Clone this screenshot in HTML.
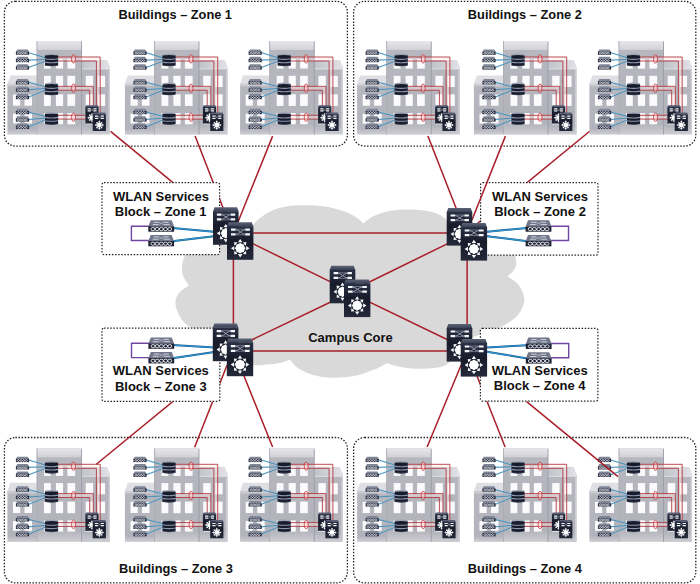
<!DOCTYPE html>
<html><head><meta charset="utf-8"><title>Campus WLAN</title>
<style>html,body{margin:0;padding:0;background:#fff}svg{display:block}text{font-family:"Liberation Sans",sans-serif;font-weight:bold;font-size:13px;fill:#111}</style></head><body>
<svg width="700" height="584" viewBox="0 0 700 584">

<defs>
<linearGradient id="gBody" x1="0" y1="0" x2="0" y2="1">
 <stop offset="0" stop-color="#b7b7bf"/><stop offset="0.88" stop-color="#b3b3bb"/><stop offset="1" stop-color="#cdcdd3"/>
</linearGradient>
<linearGradient id="gRoof" x1="0" y1="0" x2="0" y2="1">
 <stop offset="0" stop-color="#e8e8ec"/><stop offset="1" stop-color="#d0d0d6"/>
</linearGradient>
<linearGradient id="gRoofR" x1="0" y1="0" x2="1" y2="0">
 <stop offset="0" stop-color="#c2c2ca"/><stop offset="0.45" stop-color="#cfcfd6"/><stop offset="1" stop-color="#e2e2e7"/>
</linearGradient>
<linearGradient id="gSw" x1="0" y1="0" x2="0" y2="1">
 <stop offset="0" stop-color="#2b3145"/><stop offset="0.45" stop-color="#171b2a"/><stop offset="1" stop-color="#252a3b"/>
</linearGradient>
<linearGradient id="gSwTop" x1="0" y1="0" x2="0" y2="1">
 <stop offset="0" stop-color="#5d6478"/><stop offset="1" stop-color="#3a4054"/>
</linearGradient>

<!-- AP icon 13.2 x 5.4 -->
<g id="ap">
 <path d="M1.4,0 L11.8,0 L13.2,2.4 L0,2.4 Z" fill="#7f8698"/>
 <rect x="0" y="2.2" width="13.2" height="3.2" fill="#262b3d"/>
 <path d="M1.3,3.8 C2,2.5 3,2.5 3.8,3.8 S5.6,5.1 6.4,3.8 S8.2,2.5 9,3.8 S10.8,5.1 11.6,3.8 M1.3,3.8 C2,5.1 3,5.1 3.8,3.8 S5.6,2.5 6.4,3.8 S8.2,5.1 9,3.8 S10.8,2.5 11.6,3.8" stroke="#eceef4" stroke-width="0.75" fill="none"/>
</g>

<!-- access switch stack 13.2 x 12.8 -->
<g id="asw">
 <path d="M0.4,0.6 Q6.6,-0.6 12.8,0.6 L13.2,2.2 L0,2.2 Z" fill="#9ea5b6"/>
 <path d="M0,1.9 Q6.6,1.1 13.2,1.9 L13.2,11.8 Q6.6,13.2 0,11.8 Z" fill="#171b2a"/>
 <path d="M0,5.2 Q6.6,6.4 13.2,5.2" stroke="#8e97b0" stroke-width="1.1" fill="none"/>
 <path d="M0,8.5 Q6.6,9.7 13.2,8.5" stroke="#8e97b0" stroke-width="1.1" fill="none"/>
 <path d="M0.2,11.7 Q6.6,13 13,11.7" stroke="#4a5168" stroke-width="0.6" fill="none"/>
</g>

<!-- L3 switch big: 26.4 x 37.6 -->
<g id="l3">
 <path d="M1.6,0 L24.8,0 L26.4,4.2 L0,4.2 Z" fill="url(#gSwTop)"/>
 <rect x="0" y="4" width="26.4" height="33.6" fill="url(#gSw)"/>
 <g stroke="#f4f5f8" stroke-width="2.2" fill="none">
  <path d="M4,7.5 L8.7,7.5 M18.2,7.5 L22.9,7.5 M4,12.2 L8.7,12.2 M18.2,12.2 L22.9,12.2"/>
 </g>
 <g stroke="#a9aebc" stroke-width="0.9" fill="none">
  <path d="M8.7,7.5 C12,7.5 14.8,12.2 18.2,12.2 M8.7,12.2 C12,12.2 14.8,7.5 18.2,7.5"/>
  <path d="M8.7,7.1 L18.2,7.1 M8.7,12.6 L18.2,12.6" stroke-width="0.7" stroke="#8f95a6"/>
 </g>
 <path d="M13.20,16.70 L15.50,20.10 L10.90,20.10 Z M14.10,22.00 L14.10,20.10 L12.30,20.10 L12.30,22.00 Z M19.28,19.92 L19.00,23.45 L15.75,20.20 Z M16.66,23.81 L18.01,22.46 L16.74,21.19 L15.39,22.54 Z M22.50,26.00 L19.10,28.30 L19.10,23.70 Z M17.20,26.90 L19.10,26.90 L19.10,25.10 L17.20,25.10 Z M19.28,32.08 L15.75,31.80 L19.00,28.55 Z M15.39,29.46 L16.74,30.81 L18.01,29.54 L16.66,28.19 Z M13.20,35.30 L10.90,31.90 L15.50,31.90 Z M12.30,30.00 L12.30,31.90 L14.10,31.90 L14.10,30.00 Z M7.12,32.08 L7.40,28.55 L10.65,31.80 Z M9.74,28.19 L8.39,29.54 L9.66,30.81 L11.01,29.46 Z M3.90,26.00 L7.30,23.70 L7.30,28.30 Z M9.20,25.10 L7.30,25.10 L7.30,26.90 L9.20,26.90 Z M7.12,19.92 L10.65,20.20 L7.40,23.45 Z M11.01,22.54 L9.66,21.19 L8.39,22.46 L9.74,23.81 Z " fill="#f4f5f8"/>
 <circle cx="13.2" cy="26" r="5.5" fill="none" stroke="#1a1e2d" stroke-width="0.9"/>
 <circle cx="13.2" cy="26" r="4.7" fill="#fff"/>
</g>

<!-- L3 switch small: 13.2 x 18.4 -->
<g id="l3s">
 <path d="M0.8,0 L12.4,0 L13.2,1.8 L0,1.8 Z" fill="#5a6176"/>
 <rect x="0" y="1.6" width="13.2" height="16.8" fill="url(#gSw)"/>
 <g stroke="#f4f5f8" stroke-width="1.2" fill="none">
  <path d="M2.2,3.6 L5.4,3.6 M8,3.6 L11.2,3.6 M2.2,5.7 L5.4,5.7 M8,5.7 L11.2,5.7"/>
 </g>
 <path d="M5.4,3.6 L8,5.7 M5.4,5.7 L8,3.6" stroke="#9aa0b0" stroke-width="0.5"/>
 <path d="M6.60,7.70 L7.85,9.60 L5.35,9.60 Z M7.10,10.50 L7.10,9.60 L6.10,9.60 L6.10,10.50 Z M9.71,9.39 L9.53,11.33 L7.77,9.57 Z M8.37,11.44 L9.00,10.80 L8.30,10.10 L7.66,10.73 Z M11.40,12.50 L9.50,13.75 L9.50,11.25 Z M8.60,13.00 L9.50,13.00 L9.50,12.00 L8.60,12.00 Z M9.71,15.61 L7.77,15.43 L9.53,13.67 Z M7.66,14.27 L8.30,14.90 L9.00,14.20 L8.37,13.56 Z M6.60,17.30 L5.35,15.40 L7.85,15.40 Z M6.10,14.50 L6.10,15.40 L7.10,15.40 L7.10,14.50 Z M3.49,15.61 L3.67,13.67 L5.43,15.43 Z M4.83,13.56 L4.20,14.20 L4.90,14.90 L5.54,14.27 Z M1.80,12.50 L3.70,11.25 L3.70,13.75 Z M4.60,12.00 L3.70,12.00 L3.70,13.00 L4.60,13.00 Z M3.49,9.39 L5.43,9.57 L3.67,11.33 Z M5.54,10.73 L4.90,10.10 L4.20,10.80 L4.83,11.44 Z " fill="#f4f5f8"/>
 <circle cx="6.6" cy="12.5" r="2.4" fill="#fff"/>
</g>

<!-- WLC icon 25.8 x 11.4 -->
<g id="wlc">
 <path d="M2.4,0 L23.4,0 L25.8,6.3 L0,6.3 Z" fill="#71778a"/>
 <path d="M5.4,2 L10.6,2 M15.2,2 L20.4,2 M4.4,4.3 L10.2,4.3 M15.6,4.3 L21.4,4.3" stroke="#d9dce5" stroke-width="0.9"/>
 <path d="M10.6,2 L15.6,4.3 M10.2,4.3 L15.2,2" stroke="#b5b9c6" stroke-width="0.6"/>
 <rect x="0" y="6.1" width="25.8" height="5.3" fill="#1d2132"/>
 <g fill="none" stroke="#eef0f5" stroke-width="0.9">
  <ellipse cx="4.6" cy="8.8" rx="2" ry="1.6"/><ellipse cx="8.8" cy="8.8" rx="2" ry="1.6"/><ellipse cx="13" cy="8.8" rx="2" ry="1.6"/><ellipse cx="17.2" cy="8.8" rx="2" ry="1.6"/><ellipse cx="21.4" cy="8.8" rx="2" ry="1.6"/>
 </g>
</g>

<g id="bld">
<path d="M7.4,83.8 L10.4,75.4 L36.8,75.4 L36.8,83.8 Z" fill="#dedee3"/>
<rect x="7.4" y="83.8" width="29.4" height="50.8" fill="url(#gBody)"/>
<rect x="7.4" y="83.8" width="29.4" height="2.4" fill="#cbcbd1"/>
<path d="M81.4,60 L107,60 L110,67.5 L110,134.6 L81.4,134.6 Z" fill="url(#gBody)"/>
<path d="M81.4,60 L107,60 L110,67.5 L110,69 L81.4,69 Z" fill="url(#gRoofR)"/>
<rect x="81.4" y="68.6" width="28.6" height="0.7" fill="#ececf0"/>
<rect x="108.6" y="69" width="1.4" height="65.6" fill="#cfcfd6"/>
<rect x="36.8" y="41" width="44.8" height="93.6" fill="url(#gBody)"/>
<rect x="36.8" y="41" width="44.8" height="9" fill="url(#gRoof)"/>
<rect x="36.6" y="41" width="0.8" height="93.6" fill="#a6a6ae"/>
<rect x="81.1" y="41.5" width="0.8" height="93.1" fill="#9696a2"/>
<rect x="44" y="59" width="6.8" height="9.6" fill="#fbfbfd"/>
<rect x="55.9" y="59" width="7.2" height="9.6" fill="#fbfbfd"/>
<rect x="67.4" y="59" width="7.7" height="9.6" fill="#fbfbfd"/>
<rect x="44" y="75.8" width="6.8" height="11.2" fill="#fbfbfd"/>
<rect x="55.9" y="75.8" width="7.2" height="11.2" fill="#fbfbfd"/>
<rect x="67.4" y="75.8" width="7.7" height="11.2" fill="#fbfbfd"/>
<rect x="44" y="94.3" width="6.8" height="11.6" fill="#fbfbfd"/>
<rect x="55.9" y="94.3" width="7.2" height="11.6" fill="#fbfbfd"/>
<rect x="67.4" y="94.3" width="7.7" height="11.6" fill="#fbfbfd"/>
<rect x="44" y="113.1" width="6.8" height="11.2" fill="#fbfbfd"/>
<rect x="55.9" y="113.1" width="7.2" height="11.2" fill="#fbfbfd"/>
<rect x="67.4" y="113.1" width="7.7" height="11.2" fill="#fbfbfd"/>
<rect x="85.7" y="75.8" width="7.4" height="11.2" fill="#fbfbfd"/>
<rect x="97.8" y="75.8" width="7.3" height="11.2" fill="#fbfbfd"/>
<rect x="85.7" y="94.3" width="7.4" height="11.6" fill="#fbfbfd"/>
<rect x="97.8" y="94.3" width="7.3" height="11.6" fill="#fbfbfd"/>
<rect x="85.7" y="113.1" width="7.4" height="11.2" fill="#fbfbfd"/>
<rect x="97.8" y="113.1" width="7.3" height="11.2" fill="#fbfbfd"/>
<rect x="13" y="94.6" width="7.2" height="11.1" fill="#fbfbfd"/>
<rect x="24.5" y="94.6" width="7.5" height="11.1" fill="#fbfbfd"/>
<rect x="13" y="113.7" width="7.2" height="9.8" fill="#fbfbfd"/>
<rect x="24.5" y="113.7" width="7.5" height="9.8" fill="#fbfbfd"/>
<path d="M57.5,57 L100.2,57 L100.2,114 L96.8,114 L96.8,61 L57.5,61 Z" fill="#ffe6e6" fill-opacity="0.42"/>
<path d="M57.5,57 L100.2,57 L100.2,114" stroke="#ac3036" stroke-width="0.85" fill="none"/>
<path d="M57.5,61 L96.4,61 L96.4,107" stroke="#ac3036" stroke-width="0.85" fill="none"/>
<path d="M57.5,86.3 L93.3,86.3 L93.3,107 L89.7,107 L89.7,90.2 L57.5,90.2 Z" fill="#ffe6e6" fill-opacity="0.42"/>
<path d="M57.5,86.3 L93.3,86.3 L93.3,107" stroke="#ac3036" stroke-width="0.85" fill="none"/>
<path d="M57.5,90.2 L89.7,90.2 L89.7,107" stroke="#ac3036" stroke-width="0.85" fill="none"/>
<path d="M57.5,115.3 L85.6,115.3 L85.6,119.1 L57.5,119.1 Z" fill="#ffe6e6" fill-opacity="0.42"/>
<path d="M57.5,115.3 L85.6,115.3" stroke="#ac3036" stroke-width="0.85" fill="none"/>
<path d="M57.5,119.1 L85.6,119.1" stroke="#ac3036" stroke-width="0.85" fill="none"/>
<ellipse cx="73.5" cy="58.9" rx="2" ry="4.2" fill="#fbd3d3" fill-opacity="0.4" stroke="#c4343a" stroke-width="0.8"/>
<ellipse cx="73.5" cy="88.2" rx="2" ry="4.2" fill="#fbd3d3" fill-opacity="0.4" stroke="#c4343a" stroke-width="0.8"/>
<ellipse cx="73.5" cy="117.2" rx="2" ry="4.2" fill="#fbd3d3" fill-opacity="0.4" stroke="#c4343a" stroke-width="0.8"/>
<path d="M28.6,52.6 L45.6,57.7" stroke="#8fcdf0" stroke-width="1.5" stroke-opacity="0.5" fill="none"/>
<path d="M28.6,52.7 L45.6,57.8" stroke="#3580aa" stroke-width="0.8" fill="none"/>
<path d="M28.6,60.0 L45.6,59.4" stroke="#8fcdf0" stroke-width="1.5" stroke-opacity="0.5" fill="none"/>
<path d="M28.6,60.1 L45.6,59.5" stroke="#3580aa" stroke-width="0.8" fill="none"/>
<path d="M28.6,67.4 L45.6,61.1" stroke="#8fcdf0" stroke-width="1.5" stroke-opacity="0.5" fill="none"/>
<path d="M28.6,67.5 L45.6,61.2" stroke="#3580aa" stroke-width="0.8" fill="none"/>
<path d="M28.6,82.2 L45.6,86.7" stroke="#8fcdf0" stroke-width="1.5" stroke-opacity="0.5" fill="none"/>
<path d="M28.6,82.3 L45.6,86.8" stroke="#3580aa" stroke-width="0.8" fill="none"/>
<path d="M28.6,89.6 L45.6,88.4" stroke="#8fcdf0" stroke-width="1.5" stroke-opacity="0.5" fill="none"/>
<path d="M28.6,89.7 L45.6,88.5" stroke="#3580aa" stroke-width="0.8" fill="none"/>
<path d="M28.6,97.0 L45.6,90.1" stroke="#8fcdf0" stroke-width="1.5" stroke-opacity="0.5" fill="none"/>
<path d="M28.6,97.1 L45.6,90.2" stroke="#3580aa" stroke-width="0.8" fill="none"/>
<path d="M28.6,112.0 L45.6,116.3" stroke="#8fcdf0" stroke-width="1.5" stroke-opacity="0.5" fill="none"/>
<path d="M28.6,112.1 L45.6,116.4" stroke="#3580aa" stroke-width="0.8" fill="none"/>
<path d="M28.6,119.4 L45.6,118.0" stroke="#8fcdf0" stroke-width="1.5" stroke-opacity="0.5" fill="none"/>
<path d="M28.6,119.5 L45.6,118.1" stroke="#3580aa" stroke-width="0.8" fill="none"/>
<path d="M28.6,126.8 L45.6,119.7" stroke="#8fcdf0" stroke-width="1.5" stroke-opacity="0.5" fill="none"/>
<path d="M28.6,126.9 L45.6,119.8" stroke="#3580aa" stroke-width="0.8" fill="none"/>
<use href="#ap" x="15.9" y="49.4"/>
<use href="#ap" x="15.9" y="56.8"/>
<use href="#ap" x="15.9" y="64.2"/>
<use href="#ap" x="15.9" y="79.0"/>
<use href="#ap" x="15.9" y="86.4"/>
<use href="#ap" x="15.9" y="93.8"/>
<use href="#ap" x="15.9" y="108.8"/>
<use href="#ap" x="15.9" y="116.2"/>
<use href="#ap" x="15.9" y="123.6"/>
<use href="#asw" x="44.9" y="53.6"/>
<use href="#asw" x="44.9" y="82.6"/>
<use href="#asw" x="44.9" y="112.2"/>
<use href="#l3s" x="85.4" y="105.2"/>
<use href="#l3s" x="92.7" y="112.6"/>
</g>
</defs>
<rect width="700" height="584" fill="#fff"/>
<path d="M240,250 C241.0,247.7 243.7,240.3 246.0,236.0 C248.3,231.7 250.0,227.9 253.7,224.0 C257.4,220.1 262.6,215.4 268.0,212.5 C273.4,209.6 279.8,207.7 286.0,206.5 C292.2,205.3 298.5,205.3 305.0,205.3 C311.5,205.3 318.7,205.6 325.0,206.5 C331.3,207.4 338.0,209.3 343.0,211.0 C348.0,212.7 351.6,214.4 355.0,216.5 C358.4,218.6 362.1,222.3 363.5,223.5 C365.2,222.2 369.6,218.1 374.0,216.0 C378.4,213.9 384.3,211.9 390.0,210.8 C395.7,209.7 402.0,209.4 408.0,209.4 C414.0,209.4 420.8,210.0 426.0,210.8 C431.2,211.7 435.4,212.8 439.0,214.5 C442.6,216.2 444.6,217.8 447.4,220.7 C450.2,223.6 453.9,227.9 456.0,232.0 C458.1,236.1 459.3,242.8 460.0,245.0 C463.3,243.8 473.3,238.8 480.0,238.0 C486.7,237.2 494.7,238.2 500.0,240.0 C505.3,241.8 509.3,245.3 512.0,249.0 C514.7,252.7 516.0,258.4 516.3,262.0 C516.5,265.6 515.0,268.1 513.5,270.5 C512.0,272.9 508.4,275.6 507.4,276.6 C508.6,277.3 512.5,279.3 514.5,281.0 C516.5,282.7 518.1,283.7 519.7,286.6 C521.3,289.5 524.0,294.4 524.3,298.2 C524.6,302.0 523.1,306.2 521.3,309.7 C519.5,313.2 517.0,316.2 513.6,319.0 C510.2,321.8 506.0,324.4 501.2,326.7 C496.4,329.0 491.0,330.8 485.0,333.0 C479.0,335.2 468.3,338.8 465.0,340.0 C463.8,342.0 461.0,347.9 458.0,352.0 C455.0,356.1 450.8,361.7 447.1,364.3 C443.4,366.9 440.9,366.9 435.7,367.7 C430.5,368.4 421.9,369.0 415.7,368.8 C409.5,368.6 403.4,367.5 398.6,366.5 C393.8,365.5 389.0,363.5 387.1,362.9 C386.1,363.5 383.4,365.3 381.0,366.5 C378.6,367.7 377.1,368.5 372.9,370.0 C368.7,371.5 362.4,374.4 355.7,375.7 C349.0,377.0 340.0,377.8 332.9,377.7 C325.8,377.6 318.6,376.4 312.9,374.9 C307.2,373.4 302.4,371.2 298.6,368.6 C294.8,366.0 291.4,360.9 290.0,359.4 C288.3,360.0 283.8,362.1 280.0,363.0 C276.2,363.9 271.5,364.3 267.0,364.6 C262.5,364.9 257.5,365.8 253.0,365.0 C248.5,364.2 242.2,360.8 240.0,360.0 C235.8,356.7 223.3,345.4 215.0,340.0 C206.7,334.6 196.2,331.2 190.4,327.4 C184.6,323.6 182.9,321.2 180.4,317.4 C177.9,313.5 175.8,308.3 175.5,304.3 C175.2,300.3 176.3,296.6 178.5,293.5 C180.7,290.4 187.2,286.8 188.9,285.4 C188.0,284.0 184.8,279.9 183.6,277.0 C182.4,274.1 181.8,271.6 182.0,268.0 C182.2,264.4 182.8,259.2 185.0,255.5 C187.2,251.8 190.0,248.1 195.0,246.0 C200.0,243.9 207.5,242.3 215.0,243.0 C222.5,243.7 235.8,248.8 240.0,250.0 Z" fill="#d9d9da"/>
<rect x="4.4" y="1.3" width="343" height="144.8" rx="11" ry="11" fill="none" stroke="#222" stroke-width="1.3" stroke-dasharray="1.5 1.6"/>
<rect x="353.6" y="1.3" width="342.2" height="144.8" rx="11" ry="11" fill="none" stroke="#222" stroke-width="1.3" stroke-dasharray="1.5 1.6"/>
<rect x="4.4" y="437.5" width="343" height="145.4" rx="11" ry="11" fill="none" stroke="#222" stroke-width="1.3" stroke-dasharray="1.5 1.6"/>
<rect x="353.6" y="437.5" width="342.2" height="145.4" rx="11" ry="11" fill="none" stroke="#222" stroke-width="1.3" stroke-dasharray="1.5 1.6"/>
<line x1="110.6" y1="131.3" x2="222" y2="222.9" stroke="#a81e28" stroke-width="1.5"/>
<line x1="195.1" y1="136.1" x2="225" y2="212.7" stroke="#a81e28" stroke-width="1.5"/>
<line x1="272.6" y1="136.1" x2="238" y2="222" stroke="#a81e28" stroke-width="1.5"/>
<line x1="427.9" y1="136.1" x2="457" y2="210.6" stroke="#a81e28" stroke-width="1.5"/>
<line x1="590" y1="131" x2="470" y2="229.5" stroke="#a81e28" stroke-width="1.5"/>
<line x1="220" y1="362.8" x2="96" y2="464.5" stroke="#a81e28" stroke-width="1.5"/>
<line x1="227.1" y1="365" x2="194.6" y2="447.3" stroke="#a81e28" stroke-width="1.5"/>
<line x1="242" y1="371" x2="272.6" y2="447" stroke="#a81e28" stroke-width="1.5"/>
<line x1="461.1" y1="365" x2="427.1" y2="447" stroke="#a81e28" stroke-width="1.5"/>
<line x1="475" y1="371" x2="505.1" y2="447" stroke="#a81e28" stroke-width="1.5"/>
<line x1="240" y1="233" x2="460" y2="233" stroke="#a81e28" stroke-width="1.5"/>
<line x1="240" y1="351" x2="460" y2="351" stroke="#a81e28" stroke-width="1.5"/>
<line x1="233.4" y1="240" x2="233.4" y2="340" stroke="#a81e28" stroke-width="1.5"/>
<line x1="467.1" y1="240" x2="467.1" y2="340" stroke="#a81e28" stroke-width="1.5"/>
<line x1="240" y1="237.4" x2="350" y2="291.4" stroke="#a81e28" stroke-width="1.5"/>
<line x1="460" y1="237.6" x2="350" y2="291.5" stroke="#a81e28" stroke-width="1.5"/>
<line x1="240" y1="345.5" x2="350" y2="292.8" stroke="#a81e28" stroke-width="1.5"/>
<line x1="460" y1="345.7" x2="350" y2="292.6" stroke="#a81e28" stroke-width="1.5"/>
<use href="#bld" x="0" y="0"/>
<use href="#bld" x="0" y="407.3"/>
<use href="#bld" x="117.5" y="0"/>
<use href="#bld" x="117.5" y="407.3"/>
<use href="#bld" x="232.7" y="0"/>
<use href="#bld" x="232.7" y="407.3"/>
<use href="#bld" x="349.7" y="0"/>
<use href="#bld" x="349.7" y="407.3"/>
<use href="#bld" x="466.5" y="0"/>
<use href="#bld" x="466.5" y="407.3"/>
<use href="#bld" x="582" y="0"/>
<use href="#bld" x="582" y="407.3"/>
<rect x="102" y="182.6" width="117.6" height="72" rx="2" ry="2" fill="#fff" stroke="#222" stroke-width="1.2" stroke-dasharray="1.5 1.6"/>
<rect x="480.6" y="182.6" width="117.4" height="72.6" rx="2" ry="2" fill="#fff" stroke="#222" stroke-width="1.2" stroke-dasharray="1.5 1.6"/>
<rect x="102" y="328.2" width="117.8" height="73.2" rx="2" ry="2" fill="#fff" stroke="#222" stroke-width="1.2" stroke-dasharray="1.5 1.6"/>
<rect x="480.4" y="328.4" width="117.5" height="72.8" rx="2" ry="2" fill="#fff" stroke="#222" stroke-width="1.2" stroke-dasharray="1.5 1.6"/>
<line x1="505.4" y1="136.1" x2="472" y2="220" stroke="#a81e28" stroke-width="1.5"/>
<line x1="526.6" y1="401.6" x2="618" y2="476.6" stroke="#a81e28" stroke-width="1.5"/>
<text x="175.2" y="19.3" text-anchor="middle" textLength="113.5" lengthAdjust="spacingAndGlyphs">Buildings – Zone 1</text>
<text x="524.8" y="19.3" text-anchor="middle" textLength="114" lengthAdjust="spacingAndGlyphs">Buildings – Zone 2</text>
<text x="176" y="572.6" text-anchor="middle" textLength="113.8" lengthAdjust="spacingAndGlyphs">Buildings – Zone 3</text>
<text x="524.8" y="572.6" text-anchor="middle" textLength="114" lengthAdjust="spacingAndGlyphs">Buildings – Zone 4</text>
<text x="161" y="200.7" text-anchor="middle">WLAN Services</text>
<text x="160.7" y="216.4" text-anchor="middle">Block – Zone 1</text>
<text x="540" y="200.7" text-anchor="middle">WLAN Services</text>
<text x="540" y="216.4" text-anchor="middle">Block – Zone 2</text>
<text x="160.8" y="374.9" text-anchor="middle">WLAN Services</text>
<text x="160.8" y="390.5" text-anchor="middle">Block – Zone 3</text>
<text x="539.7" y="374.9" text-anchor="middle">WLAN Services</text>
<text x="539.7" y="390.4" text-anchor="middle">Block – Zone 4</text>
<text x="350.5" y="342" text-anchor="middle">Campus Core</text>
<path d="M151.3,226.20000000000002 L131.4,226.20000000000002 L131.4,240.5 L151.3,240.5" fill="none" stroke="#7046a2" stroke-width="1.4"/>
<line x1="172.3" y1="227.9" x2="214" y2="231.8" stroke="#1a5a8a" stroke-width="2"/>
<line x1="172.3" y1="227.9" x2="214" y2="231.8" stroke="#2f93cf" stroke-width="1.2"/>
<line x1="172.3" y1="241.20000000000002" x2="214" y2="236.2" stroke="#1a5a8a" stroke-width="2"/>
<line x1="172.3" y1="241.20000000000002" x2="214" y2="236.2" stroke="#2f93cf" stroke-width="1.2"/>
<use href="#wlc" x="148.3" y="220.3"/>
<use href="#wlc" x="148.3" y="234.9"/>
<path d="M151.4,343.29999999999995 L131.5,343.29999999999995 L131.5,357.59999999999997 L151.4,357.59999999999997" fill="none" stroke="#7046a2" stroke-width="1.4"/>
<line x1="172.4" y1="345.0" x2="214.3" y2="347.6" stroke="#1a5a8a" stroke-width="2"/>
<line x1="172.4" y1="345.0" x2="214.3" y2="347.6" stroke="#2f93cf" stroke-width="1.2"/>
<line x1="172.4" y1="358.29999999999995" x2="214.3" y2="352.0" stroke="#1a5a8a" stroke-width="2"/>
<line x1="172.4" y1="358.29999999999995" x2="214.3" y2="352.0" stroke="#2f93cf" stroke-width="1.2"/>
<use href="#wlc" x="148.4" y="337.4"/>
<use href="#wlc" x="148.4" y="352.0"/>
<path d="M548.4,226.20000000000002 L568.5,226.20000000000002 L568.5,240.5 L548.4,240.5" fill="none" stroke="#7046a2" stroke-width="1.4"/>
<line x1="527.4" y1="227.9" x2="487" y2="231.8" stroke="#1a5a8a" stroke-width="2"/>
<line x1="527.4" y1="227.9" x2="487" y2="231.8" stroke="#2f93cf" stroke-width="1.2"/>
<line x1="527.4" y1="241.20000000000002" x2="487" y2="236.2" stroke="#1a5a8a" stroke-width="2"/>
<line x1="527.4" y1="241.20000000000002" x2="487" y2="236.2" stroke="#2f93cf" stroke-width="1.2"/>
<use href="#wlc" x="525.6" y="220.3"/>
<use href="#wlc" x="525.6" y="234.9"/>
<path d="M548.5999999999999,343.5 L568.6999999999999,343.5 L568.6999999999999,357.8 L548.5999999999999,357.8" fill="none" stroke="#7046a2" stroke-width="1.4"/>
<line x1="527.5999999999999" y1="345.20000000000005" x2="487" y2="347.40000000000003" stroke="#1a5a8a" stroke-width="2"/>
<line x1="527.5999999999999" y1="345.20000000000005" x2="487" y2="347.40000000000003" stroke="#2f93cf" stroke-width="1.2"/>
<line x1="527.5999999999999" y1="358.5" x2="487" y2="351.8" stroke="#1a5a8a" stroke-width="2"/>
<line x1="527.5999999999999" y1="358.5" x2="487" y2="351.8" stroke="#2f93cf" stroke-width="1.2"/>
<use href="#wlc" x="525.8" y="337.6"/>
<use href="#wlc" x="525.8" y="352.20000000000005"/>
<use href="#l3" x="213" y="207.2" transform="translate(6.39,0) scale(0.97,1)"/>
<use href="#l3" x="227" y="222.2"/>
<use href="#l3" x="446.7" y="208" transform="translate(13.40,0) scale(0.97,1)"/>
<use href="#l3" x="460.7" y="223"/>
<use href="#l3" x="212.8" y="323.6" transform="translate(6.38,0) scale(0.97,1)"/>
<use href="#l3" x="226.8" y="338.6"/>
<use href="#l3" x="446.7" y="324" transform="translate(13.40,0) scale(0.97,1)"/>
<use href="#l3" x="460.7" y="339"/>
<use href="#l3" x="329.7" y="265.7" transform="translate(9.89,0) scale(0.97,1)"/>
<use href="#l3" x="344.0" y="279.5"/>
</svg></body></html>
